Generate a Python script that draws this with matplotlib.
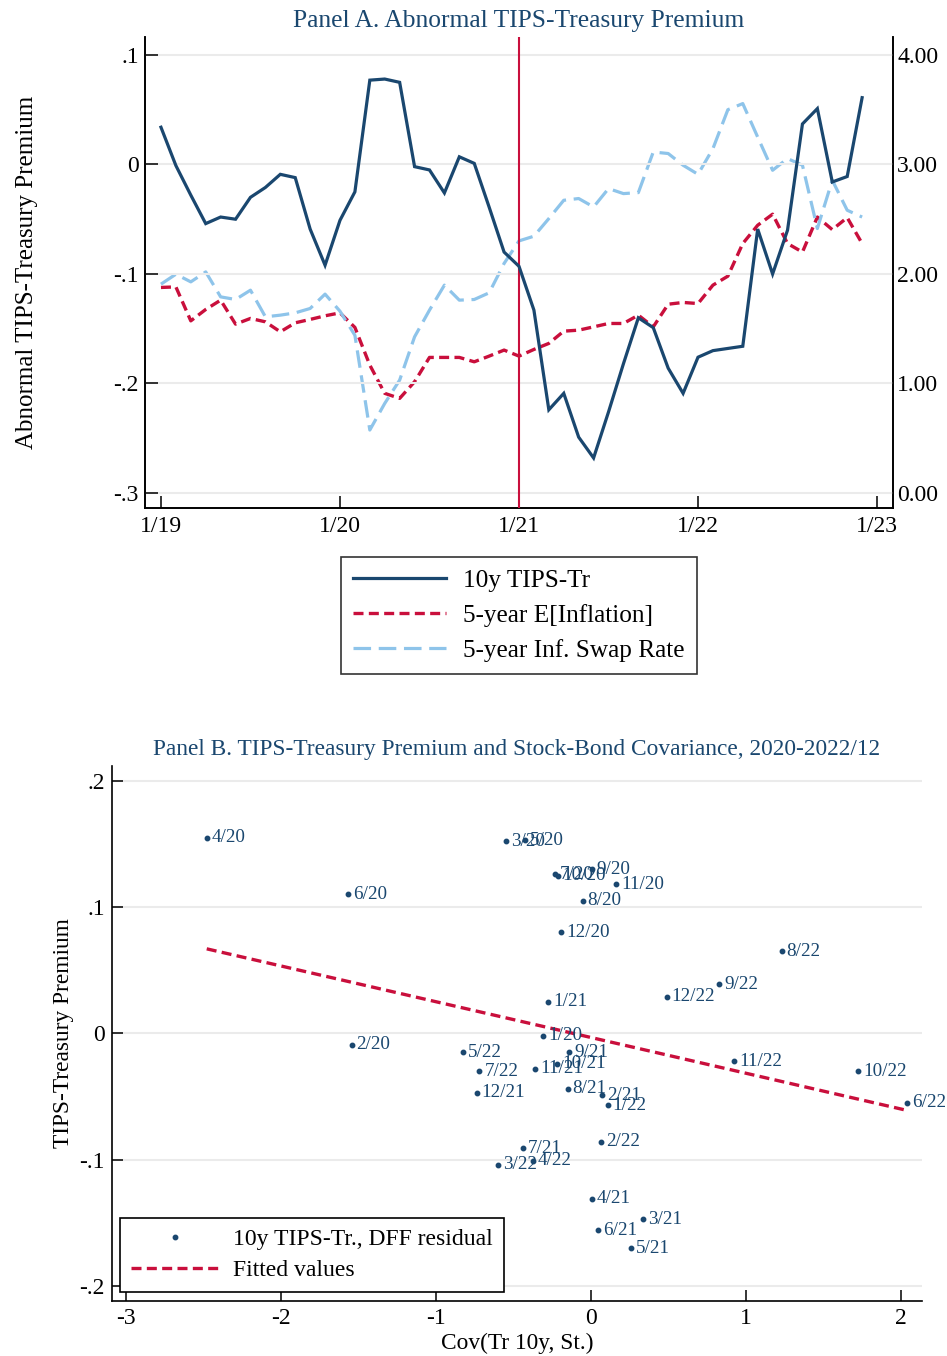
import numpy as np
import matplotlib
matplotlib.use('Agg')
import matplotlib.pyplot as plt
from matplotlib.lines import Line2D

plt.rcParams['font.family'] = ['Liberation Serif', 'DejaVu Serif']

# ---------------- Panel A data (monthly, 1/2019 - 12/2022) ----------------
tips_tr = [0.034, -0.001, -0.028, -0.054, -0.048, -0.050, -0.030, -0.021, -0.009, -0.012, -0.059, -0.092,
           -0.051, -0.025, 0.077, 0.078, 0.075, -0.002, -0.005, -0.026, 0.007, 0.001, -0.039, -0.080,
           -0.093, -0.133, -0.224, -0.209, -0.249, -0.268, -0.226, -0.182, -0.140, -0.149, -0.186, -0.209,
           -0.176, -0.170, -0.168, -0.166, -0.059, -0.100, -0.060, 0.037, 0.051, -0.016, -0.011, 0.061]
exp_infl = [1.877, 1.882, 1.572, 1.676, 1.761, 1.542, 1.594, 1.563, 1.472, 1.554, 1.585, 1.618,
            1.645, 1.512, 1.168, 0.910, 0.864, 1.016, 1.238, 1.238, 1.238, 1.198, 1.250, 1.305,
            1.250, 1.311, 1.366, 1.478, 1.487, 1.517, 1.548, 1.548, 1.624, 1.517, 1.724, 1.740,
            1.730, 1.898, 1.980, 2.278, 2.445, 2.546, 2.278, 2.200, 2.520, 2.405, 2.515, 2.278]
swap_rate = [1.907, 1.998, 1.928, 2.019, 1.791, 1.767, 1.852, 1.609, 1.624, 1.645, 1.685, 1.816,
             1.660, 1.440, 0.575, 0.818, 1.031, 1.426, 1.670, 1.898, 1.761, 1.767, 1.828, 2.096,
             2.302, 2.345, 2.506, 2.673, 2.689, 2.612, 2.780, 2.734, 2.743, 3.114, 3.100, 2.993,
             2.910, 3.145, 3.500, 3.556, 3.250, 2.947, 3.054, 2.993, 2.415, 2.856, 2.582, 2.520]
xtick_labels_A = ['1/19', '1/20', '1/21', '1/22', '1/23']
ytick_left_A = [0.1, 0.0, -0.1, -0.2, -0.3]
ytick_left_labels_A = ['.1', '0', '-.1', '-.2', '-.3']
ytick_right_A = [4, 3, 2, 1, 0]
ytick_right_labels_A = ['4.00', '3.00', '2.00', '1.00', '0.00']
event_month = 24  # 1/21

# ---------------- Panel B data ----------------
labels_B = ['1/20', '2/20', '3/20', '4/20', '5/20', '6/20', '7/20', '8/20', '9/20', '10/20', '11/20', '12/20',
            '1/21', '2/21', '3/21', '4/21', '5/21', '6/21', '7/21', '8/21', '9/21', '10/21', '11/21', '12/21',
            '1/22', '2/22', '3/22', '4/22', '5/22', '6/22', '7/22', '8/22', '9/22', '10/22', '11/22', '12/22']
cov_x = [-0.308, -1.544, -0.548, -2.479, -0.426, -1.566, -0.230, -0.054, 0.004, -0.215, 0.161, -0.194,
         -0.277, 0.073, 0.338, 0.004, 0.256, 0.047, -0.437, -0.150, -0.140, -0.217, -0.361, -0.738,
         0.108, 0.065, -0.598, -0.376, -0.824, 2.037, -0.720, 1.230, 0.826, 1.725, 0.925, 0.488]
prem_y = [-0.002, -0.009, 0.152, 0.155, 0.153, 0.110, 0.126, 0.105, 0.130, 0.125, 0.118, 0.080,
          0.025, -0.049, -0.147, -0.131, -0.170, -0.156, -0.091, -0.044, -0.015, -0.024, -0.028, -0.047,
          -0.057, -0.086, -0.104, -0.101, -0.015, -0.055, -0.030, 0.065, 0.039, -0.030, -0.022, 0.029]
xticks_B = [-3, -2, -1, 0, 1, 2]
yticks_B = [0.2, 0.1, 0.0, -0.1, -0.2]
ytick_labels_B = ['.2', '.1', '0', '-.1', '-.2']

NAVY = '#1a476f'
RED = '#c90f3c'
LBLUE = '#8ec4ea'
GRID = '#ebebeb'

W, H = 947, 1356
fig = plt.figure(figsize=(W / 100, H / 100), dpi=100)


def box(l, t, r, b):
    return [l / W, 1 - b / H, (r - l) / W, (b - t) / H]


# ================= Panel A =================
axA = fig.add_axes(box(145, 37, 893, 508))
axA2 = axA.twinx()
months = np.arange(len(tips_tr))

axA.set_xlim(-1.07, 49.07)
axA.set_ylim(-0.3137, 0.1164)
axA2.set_ylim(-0.137, 4.164)

axA.set_yticks(ytick_left_A)
axA.set_yticklabels(ytick_left_labels_A)
axA2.set_yticks(ytick_right_A)
axA2.set_yticklabels(ytick_right_labels_A)
axA.set_xticks(np.arange(len(xtick_labels_A)) * 12)
axA.set_xticklabels(xtick_labels_A)

axA.grid(axis='y', color=GRID, lw=1.5)
axA.set_axisbelow(True)

lA1, = axA.plot(months, tips_tr, color=NAVY, lw=2.3, zorder=5, solid_joinstyle='miter')
lA2, = axA2.plot(months, exp_infl, color=RED, lw=2.4, dashes=(3.0, 1.6))
lA3, = axA2.plot(months, swap_rate, color=LBLUE, lw=2.3, dashes=(5.5, 2.4))
axA.axvline(event_month, color=RED, lw=1.5, zorder=4)
axA.set_zorder(axA2.get_zorder() + 1)
axA.patch.set_visible(False)

for a in (axA, axA2):
    a.spines['top'].set_visible(False)
    for s in a.spines.values():
        s.set_linewidth(1.2)
axA.tick_params(axis='x', direction='in', length=9, width=1.1, labelsize=17, pad=6)
axA.tick_params(axis='y', direction='in', length=9, width=1.1, labelsize=17, pad=4.5)
axA2.tick_params(axis='y', direction='in', length=9, width=1.1, labelsize=17, pad=3)

axA.set_title('Panel A. Abnormal TIPS-Treasury Premium', fontsize=18.4, color=NAVY, pad=7)
axA.set_ylabel('Abnormal TIPS-Treasury Premium', fontsize=18, labelpad=54)

legA = fig.legend([lA1, lA2, lA3], ['10y TIPS-Tr', '5-year E[Inflation]', '5-year Inf. Swap Rate'],
                  loc='upper center', bbox_to_anchor=(519 / W, 1 - 557 / H), fontsize=18.2,
                  frameon=True, fancybox=False, edgecolor='black', handlelength=3.65,
                  handletextpad=0.7, borderpad=0.5, labelspacing=0.46, borderaxespad=0)
legA.get_frame().set_linewidth(1.2)

# ================= Panel B =================
axB = fig.add_axes(box(111.7, 766, 922, 1301))
axB.set_xlim(-3.092, 2.135)
axB.set_ylim(-0.2119, 0.2117)
axB.set_xticks(xticks_B)
axB.set_xticklabels([str(v) for v in xticks_B])
axB.set_yticks(yticks_B)
axB.set_yticklabels(ytick_labels_B)
axB.grid(axis='y', color=GRID, lw=1.5)
axB.set_axisbelow(True)
for side in ('top', 'right'):
    axB.spines[side].set_visible(False)
for side in ('left', 'bottom'):
    axB.spines[side].set_linewidth(1.2)
axB.tick_params(axis='both', direction='in', length=8, width=1.1, labelsize=17, pad=5)

cx = np.array(cov_x)
py = np.array(prem_y)
sc, = axB.plot(cx, py, 'o', ms=3.2, color=NAVY, lw=0, zorder=4)
for lab, xv, yv in zip(labels_B, cov_x, prem_y):
    axB.annotate(lab, (xv, yv), xytext=(3.5, 0), textcoords='offset points',
                 ha='left', va='center', fontsize=13.8, color=NAVY, zorder=5)

slope, intercept = np.polyfit(cx, py, 1)
xfit = np.array([cx.min(), cx.max()])
fl, = axB.plot(xfit, intercept + slope * xfit, color=RED, lw=2.4, dashes=(3.0, 1.6), zorder=3)

axB.set_title('Panel B. TIPS-Treasury Premium and Stock-Bond Covariance, 2020-2022/12',
              fontsize=16.8, color=NAVY, pad=8)
axB.set_xlabel('Cov(Tr 10y, St.)', fontsize=16.8, labelpad=3)
axB.set_ylabel('TIPS-Treasury Premium', fontsize=16.8, labelpad=4)

legB = axB.legend([sc, fl], ['10y TIPS-Tr., DFF residual', 'Fitted values'],
                  loc='lower left', bbox_to_anchor=(120 / W, 1 - 1292 / H),
                  bbox_transform=fig.transFigure, fontsize=17, frameon=True, fancybox=False,
                  edgecolor='black', handlelength=3.75, handletextpad=0.6, borderpad=0.45,
                  labelspacing=0.42, numpoints=1, framealpha=1, borderaxespad=0)
legB.get_frame().set_linewidth(1.2)

fig.savefig('out.png', dpi=100)
